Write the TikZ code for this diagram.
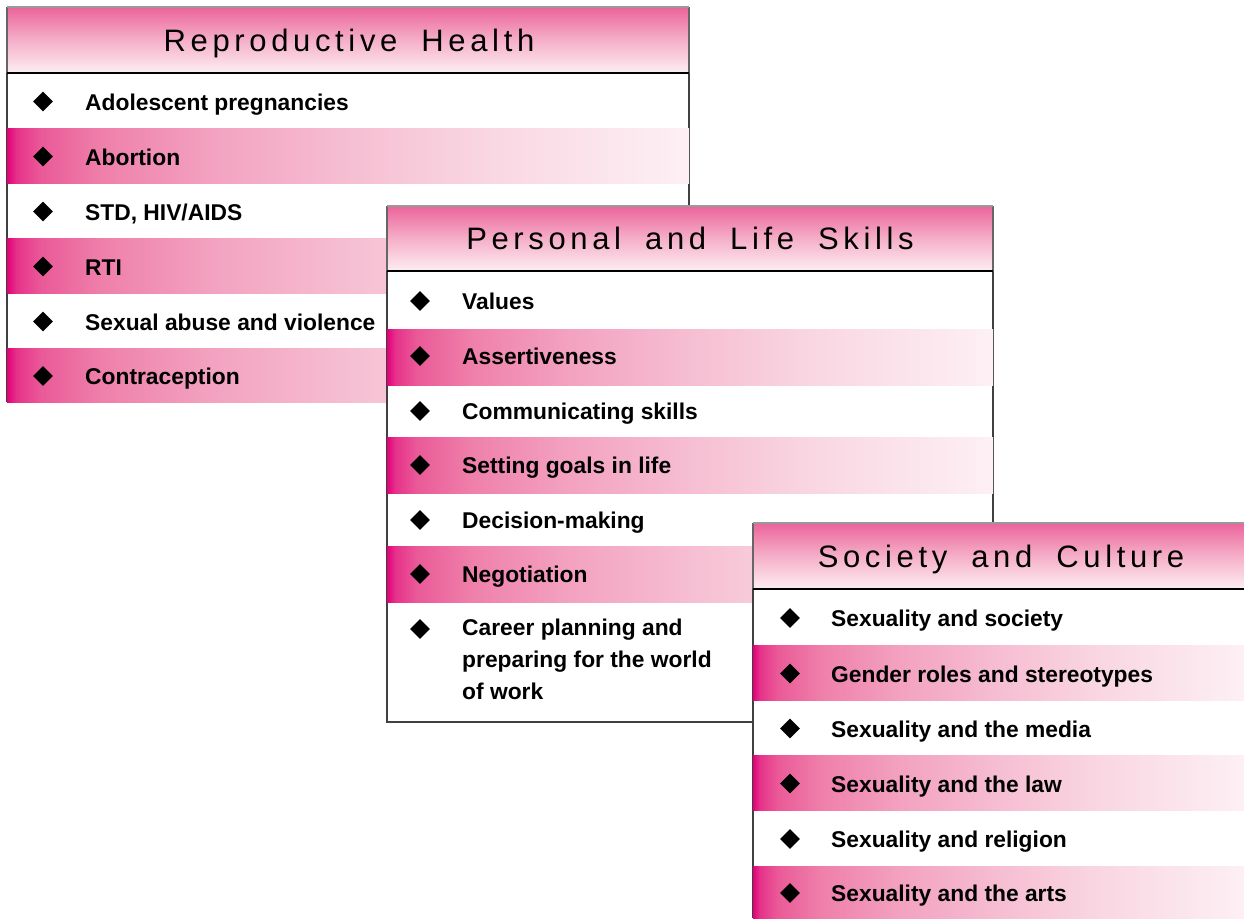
\documentclass[tikz,border=0pt]{standalone}
\usepackage{fontspec}
\setmainfont{Liberation Sans}
\newfontfamily\hdrfont[LetterSpace=15]{Liberation Sans}
\usetikzlibrary{shapes.geometric}
\definecolor{rA}{RGB}{226,0,122}
\definecolor{rB}{RGB}{230,50,138}
\definecolor{rC}{RGB}{234,90,152}
\definecolor{rD}{RGB}{239,128,170}
\definecolor{rE}{RGB}{243,162,192}
\definecolor{rF}{RGB}{246,190,210}
\definecolor{rG}{RGB}{249,214,226}
\definecolor{rH}{RGB}{253,240,245}
\definecolor{hT}{RGB}{235,100,155}
\definecolor{hM}{RGB}{245,175,200}
\definecolor{hB}{RGB}{253,238,243}
\pgfdeclarehorizontalshading{rowshade}{100bp}{color(0bp)=(rA); color(25bp)=(rA); color(25.7bp)=(rB); color(27.5bp)=(rC); color(32bp)=(rD); color(40bp)=(rE); color(50bp)=(rF); color(60bp)=(rG); color(75bp)=(rH); color(100bp)=(rH)}
\tikzset{
  bulletmark/.style={diamond, fill=black, minimum width=20pt, minimum height=20pt, inner sep=0pt},
  itemtext/.style={anchor=base west, inner sep=0pt, font=\fontsize{22.8}{32}\selectfont\bfseries},
  paneltitle/.style={anchor=base, inner sep=0pt, font=\hdrfont\fontsize{31}{36}\selectfont},
  sideline/.style={draw=black!75, line width=1.5pt},
  hdrtop/.style={draw=black!40, line width=1.5pt},
  hdrside/.style={draw=black!60, line width=1.5pt},
  hdrbot/.style={draw=black, line width=2pt},
  hdrfill/.style={top color=hT, bottom color=hB, middle color=hM},
  rowfill/.style={shading=rowshade},
}
\newcommand{\rowitem}[5]{%
  \node[bulletmark] (#1d) at (#2,#4+1) {};
  \node[itemtext] (#1t) at (#3,#4+9.5) {#5};
}
\newcommand{\pinkrow}[4]{\shade[rowfill] (#1,#2) rectangle (#3,#4);}
\newcommand{\wsp}{\hspace{24pt}}
\begin{document}
\begin{tikzpicture}[x=1pt,y=-1pt]
\useasboundingbox (0,0) rectangle (1244,918);
\fill[white] (0,0) rectangle (1244,918);
% ---------- Panel 1 ----------
\fill[white] (7,73) rectangle (689,402);
\draw[sideline] (7,73) -- (7,402);
\draw[sideline] (689,73) -- (689,402);
\pinkrow{7}{128}{689}{183}
\pinkrow{7}{238}{689}{293}
\pinkrow{7}{348}{689}{402}
\shade[hdrfill] (7,7) rectangle (689,73);
\draw[hdrside] (7,7) -- (7,73);
\draw[hdrside] (689,7) -- (689,73);
\draw[hdrtop] (7,7) -- (689,7);
\draw[hdrbot] (7,73) -- (689,73);
\node[paneltitle] (t1) at (349,51.5) {Reproductive\wsp Health};
\rowitem{a1}{43}{85}{100.5}{Adolescent pregnancies}
\rowitem{a2}{43}{85}{155.5}{Abortion}
\rowitem{a3}{43}{85}{210.5}{STD, HIV/AIDS}
\rowitem{a4}{43}{85}{265.5}{RTI}
\rowitem{a5}{43}{85}{320.5}{Sexual abuse and violence}
\rowitem{a6}{43}{85}{375}{Contraception}
% ---------- Panel 2 ----------
\fill[white] (387,271) rectangle (993,722);
\draw[sideline] (387,271) -- (387,722) -- (993,722) -- (993,271);
\pinkrow{387}{329}{993}{385}
\pinkrow{387}{437}{993}{493}
\pinkrow{387}{546}{993}{602}
\shade[hdrfill] (387,206) rectangle (993,271);
\draw[hdrside] (387,206) -- (387,271);
\draw[hdrside] (993,206) -- (993,271);
\draw[hdrtop] (387,206) -- (993,206);
\draw[hdrbot] (387,271) -- (993,271);
\node[paneltitle] (t2) at (690,249.5) {Personal\wsp and\wsp Life\wsp Skills};
\rowitem{b1}{420}{462}{300}{Values}
\rowitem{b2}{420}{462}{355}{Assertiveness}
\rowitem{b3}{420}{462}{410}{Communicating skills}
\rowitem{b4}{420}{462}{464}{Setting goals in life}
\rowitem{b5}{420}{462}{519}{Decision-making}
\rowitem{b6}{420}{462}{573}{Negotiation}
\node[bulletmark] (b7d) at (420,629) {};
\node[itemtext, anchor=north west, align=left] (b7t) at (462,618.5) {Career planning and\\preparing for the world\\of work};
% ---------- Panel 3 ----------
\fill[white] (753,589) rectangle (1246,918);
\draw[sideline] (753,589) -- (753,918);
\pinkrow{753}{645}{1246}{700}
\pinkrow{753}{755}{1246}{810}
\pinkrow{753}{866}{1246}{920}
\shade[hdrfill] (753,523) rectangle (1246,589);
\draw[hdrside] (753,523) -- (753,589);
\draw[hdrtop] (753,523) -- (1246,523);
\draw[hdrbot] (753,589) -- (1246,589);
\node[paneltitle] (t3) at (1001,567) {Society\wsp and\wsp Culture};
\rowitem{c1}{790}{831}{617}{Sexuality and society}
\rowitem{c2}{790}{831}{672.5}{Gender roles and stereotypes}
\rowitem{c3}{790}{831}{727.5}{Sexuality and the media}
\rowitem{c4}{790}{831}{782.5}{Sexuality and the law}
\rowitem{c5}{790}{831}{838}{Sexuality and religion}
\rowitem{c6}{790}{831}{892}{Sexuality and the arts}
\end{tikzpicture}
\end{document}
